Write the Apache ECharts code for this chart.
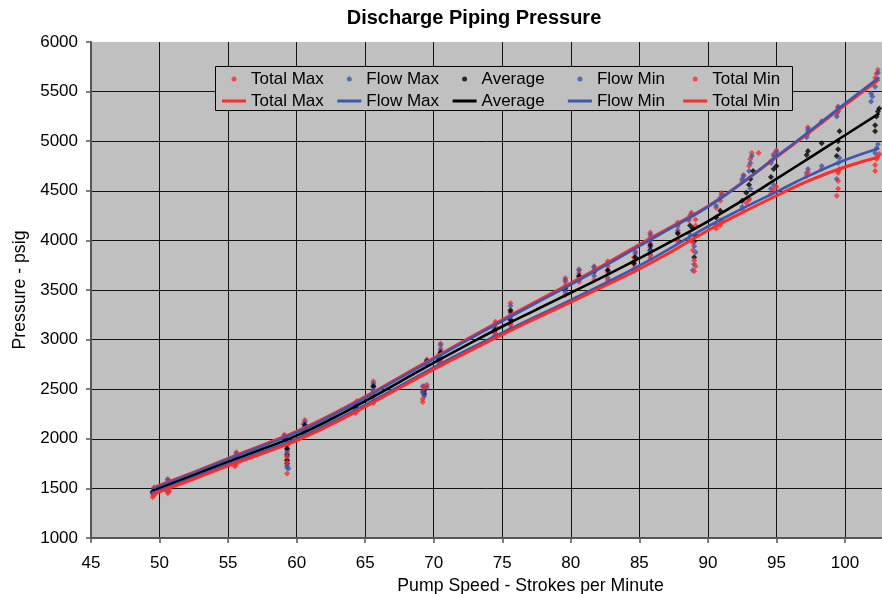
<!DOCTYPE html>
<html>
<head>
<meta charset="utf-8">
<script src="https://cdn.jsdelivr.net/npm/echarts@6/dist/echarts.min.js"></script>
<style>
  html, body { margin: 0; padding: 0; background: #fff; }
  #chart { width: 882px; height: 594px; }
</style>
</head>
<body>
<div id="chart"></div>
<script>
// Discharge piping pressure vs pump speed: measured points and fitted curves
const seriesNames = ['Total Max', 'Flow Max', 'Average', 'Flow Min', 'Total Min'];
const xTicks = [45, 50, 55, 60, 65, 70, 75, 80, 85, 90, 95, 100];
const yTicks = [1000, 1500, 2000, 2500, 3000, 3500, 4000, 4500, 5000, 5500, 6000];

// measured points [strokes per minute, psig]
const totalMaxPts = [
  [49.5,1460],[49.6,1490],[49.6,1510],[49.7,1480],
  [50.6,1500],[50.6,1540],[50.7,1575],[50.6,1595],
  [55.5,1770],[55.5,1800],[55.6,1835],[55.6,1865],
  [59.1,2040],[59.3,1985],[59.3,1930],[59.3,1880],[59.3,1820],
  [60.5,2090],[60.5,2150],[60.6,2190],
  [64.3,2310],[64.3,2350],[64.4,2380],
  [65.5,2430],[65.6,2490],[65.6,2540],[65.6,2580],
  [69.3,2530],[69.2,2480],[69.5,2545],[69.5,2800],
  [70.4,2790],[70.4,2850],[70.5,2910],[70.5,2960],
  [74.4,3080],[74.5,3130],[74.5,3180],
  [75.6,3170],[75.6,3240],[75.6,3300],[75.6,3370],
  [79.6,3520],[79.6,3580],[79.6,3620],
  [80.6,3620],[80.6,3670],[80.6,3710],
  [81.7,3680],[81.7,3740],
  [82.7,3680],[82.7,3740],[82.7,3790],
  [84.6,3760],[84.6,3830],[84.7,3890],
  [85.8,3900],[85.8,3970],[85.8,4030],[85.8,4080],
  [87.8,4080],[87.8,4140],[87.8,4180],
  [88.6,4200],[88.7,4250],[88.8,4280],
  [89.1,4150],[89.1,4210],
  [90.6,4330],[90.9,4400],[91.0,4480],
  [92.5,4600],[92.6,4660],
  [93.0,4750],[93.1,4820],[93.2,4880],[93.7,4880],
  [94.6,4800],[94.8,4870],[95.0,4910],
  [97.2,5060],[97.3,5100],[97.3,5140],
  [98.3,5200],
  [99.4,5280],[99.5,5320],[99.5,5350],
  [102.2,5640],[102.3,5680],[102.4,5720]
];
const flowMaxPts = [
  [49.5,1470],[49.6,1500],[49.7,1490],
  [50.6,1510],[50.7,1560],[50.6,1585],
  [55.5,1780],[55.6,1820],[55.6,1850],
  [59.1,2030],[59.3,1960],[59.3,1900],[59.3,1790],[59.3,1710],
  [60.5,2110],[60.6,2170],
  [64.3,2330],[64.4,2370],
  [65.5,2450],[65.6,2520],[65.6,2560],
  [69.2,2530],[69.3,2470],[69.5,2520],[69.5,2790],
  [70.4,2820],[70.5,2890],[70.5,2945],
  [74.4,3100],[74.5,3160],
  [75.6,3200],[75.6,3270],[75.6,3340],
  [79.6,3540],[79.6,3600],
  [80.6,3640],[80.6,3700],
  [81.7,3700],[81.7,3730],
  [82.7,3700],[82.7,3770],
  [84.6,3790],[84.7,3870],
  [85.8,3930],[85.8,4000],[85.8,4060],
  [87.8,4100],[87.8,4160],
  [88.6,4220],[88.8,4260],
  [88.9,3700],[89.0,3760],
  [90.6,4350],[90.9,4430],[91.0,4460],
  [92.5,4620],[92.6,4650],
  [93.0,4700],[93.1,4780],[93.2,4850],
  [94.6,4780],[94.8,4850],[95.0,4890],
  [97.2,5040],[97.3,5080],[97.3,5120],
  [98.3,5190],
  [99.4,5250],[99.5,5300],[99.5,5340],
  [101.9,5400],[101.9,5480],
  [102.0,5450],[102.2,5550],[102.3,5620],[102.4,5690]
];
const averagePts = [
  [49.5,1460],[49.6,1480],[50.6,1490],[50.6,1530],[55.5,1760],[55.6,1800],
  [59.2,2000],[59.3,1900],[59.3,1840],[59.3,1780],[59.3,1750],
  [60.5,2080],[60.6,2140],
  [64.3,2320],[65.6,2470],[65.6,2530],
  [69.3,2490],[69.3,2450],[69.5,2780],
  [70.4,2800],[70.5,2870],
  [74.5,3100],[75.6,3200],[75.6,3290],
  [79.6,3520],[80.6,3640],[81.7,3690],[82.7,3700],
  [84.6,3770],[84.7,3830],[85.8,3900],[85.8,3950],
  [87.8,4070],[88.7,4150],[88.9,4120],[89.1,4050],[89.0,3990],[89.0,3830],
  [90.6,4230],[90.9,4300],
  [92.5,4400],[92.8,4480],[93.0,4560],[93.1,4620],[93.3,4700],
  [94.6,4640],[94.8,4720],[95.0,4750],
  [97.2,4860],[97.3,4900],[98.3,4980],
  [99.4,4850],[99.5,4920],[99.5,5000],[99.6,5100],
  [102.2,5100],[102.2,5160],[102.3,5250],[102.4,5300],[102.5,5330]
];
const flowMinPts = [
  [49.5,1440],[49.6,1460],[50.6,1470],[50.7,1500],[55.5,1740],[55.6,1770],
  [59.3,1860],[59.3,1730],[59.4,1700],
  [60.5,2060],[60.6,2100],
  [64.3,2290],[65.6,2430],[65.6,2490],
  [69.2,2470],[69.3,2430],[69.5,2760],
  [70.4,2760],[70.5,2820],
  [74.5,3060],[75.6,3150],[75.6,3230],
  [79.6,3480],[80.6,3600],[81.7,3640],[82.7,3620],
  [84.6,3710],[85.8,3850],[85.8,3890],
  [87.8,4010],[88.7,4060],[89.0,3940],[89.1,3880],
  [90.6,4160],[90.9,4200],
  [92.5,4340],[93.0,4420],[93.1,4520],
  [94.6,4520],[94.8,4560],
  [97.2,4680],[97.3,4720],[98.3,4750],
  [99.4,4620],[99.5,4700],[99.5,4780],[99.6,4830],
  [102.2,4880],[102.3,4930],[102.4,4970]
];
const totalMinPts = [
  [49.5,1410],[49.6,1430],[49.7,1450],[50.6,1450],[50.7,1470],
  [55.5,1720],[55.6,1745],
  [59.3,1820],[59.3,1760],[59.3,1650],
  [60.5,2040],[60.6,2070],
  [64.3,2260],[64.4,2280],
  [65.6,2380],[65.6,2360],[65.5,2420],
  [69.2,2370],[69.2,2400],[69.3,2510],[69.5,2750],
  [70.4,2740],[70.5,2780],
  [74.4,3030],[74.5,3060],[75.6,3110],[75.6,3150],
  [79.6,3450],[80.6,3580],[81.7,3600],[82.7,3570],[82.7,3600],
  [84.6,3690],[84.7,3720],[85.8,3820],[85.8,3860],
  [87.8,3990],[88.6,4010],[88.9,3980],[88.9,3900],[89.0,3800],[89.0,3690],[89.1,3740],
  [90.6,4120],[90.9,4150],[91.0,4200],
  [92.5,4310],[92.8,4380],[93.0,4410],
  [94.6,4470],[94.8,4510],[95.0,4540],
  [97.2,4650],[97.3,4690],[98.3,4720],
  [99.4,4450],[99.5,4520],[99.5,4600],[99.5,4680],[99.6,4720],
  [102.2,4700],[102.2,4760],[102.3,4820],[102.4,4850],[102.5,4870]
];

// fitted curves sampled along the speed range
const curveX = [49.5, 52.5, 55, 57.5, 60, 62.5, 65, 67.5, 70, 72.5, 75, 77.5, 80, 82.5, 85, 87.5, 90, 92.5, 95, 97.5, 100, 102.5];
const totalMaxCurve = [1505, 1665, 1803, 1937, 2075, 2242, 2425, 2620, 2815, 3010, 3200, 3385, 3570, 3760, 3958, 4150, 4345, 4582, 4840, 5100, 5365, 5625];
const flowMaxCurve  = [1495, 1655, 1793, 1927, 2063, 2230, 2413, 2608, 2803, 2997, 3187, 3370, 3555, 3745, 3943, 4138, 4338, 4580, 4845, 5110, 5380, 5645];
const averageCurve  = [1475, 1633, 1767, 1897, 2032, 2197, 2380, 2572, 2765, 2952, 3132, 3303, 3472, 3643, 3820, 4003, 4193, 4402, 4620, 4840, 5060, 5280];
const flowMinCurve  = [1455, 1611, 1744, 1870, 2000, 2163, 2343, 2532, 2720, 2900, 3070, 3236, 3400, 3568, 3745, 3940, 4140, 4320, 4490, 4660, 4810, 4930];
const totalMinCurve = [1440, 1595, 1727, 1852, 1982, 2143, 2323, 2512, 2700, 2877, 3050, 3216, 3378, 3543, 3712, 3900, 4100, 4280, 4450, 4610, 4740, 4840];

const RED = '#FF2A2A';
const BLUE = '#3A58B0';
const BLACK = '#000000';
const colors = [RED, BLUE, BLACK, BLUE, RED];
const pointSets = [totalMaxPts, flowMaxPts, averagePts, flowMinPts, totalMinPts];
const curveSets = [totalMaxCurve, flowMaxCurve, averageCurve, flowMinCurve, totalMinCurve];
const FONT = 'Liberation Sans, Arial, sans-serif';
const CURVE_TAG = ' curve';

const pointSeries = seriesNames.map((name, i) => ({
  name: name,
  type: 'scatter',
  symbol: 'diamond',
  symbolSize: 6,
  data: pointSets[i],
  itemStyle: { color: colors[i] },
  z: 2,
  silent: true
}));

const curveSeries = seriesNames.map((name, i) => ({
  name: name + CURVE_TAG,
  type: 'line',
  smooth: true,
  symbol: 'none',
  data: curveX.map((x, k) => [x, curveSets[i][k]]),
  lineStyle: { color: colors[i], width: colors[i] === RED ? 3 : 2.6 },
  itemStyle: { color: colors[i] },
  z: 3,
  silent: true
}));

// two-row legend: markers on top, curves below, in five aligned columns
const legendBase = {
  orient: 'horizontal',
  padding: 0,
  selectedMode: false,
  formatter: n => n.replace(CURVE_TAG, '')
};
const legendText = { fontFamily: FONT, fontSize: 17, color: '#000' };
const legends = [];
seriesNames.forEach((name, c) => {
  const left = 222 + 115.3 * c;
  legends.push(Object.assign({}, legendBase, {
    left: left + 9.5, top: 70.5, itemWidth: 5, itemHeight: 5,
    data: [{ name: name, icon: 'circle' }],
    textStyle: Object.assign({ padding: [0, 0, 0, 9.5] }, legendText)
  }));
  legends.push(Object.assign({}, legendBase, {
    left: left, top: 92.5, itemWidth: 24, itemHeight: 3,
    data: [{ name: name + CURVE_TAG, icon: 'rect' }],
    textStyle: legendText
  }));
});

const chart = echarts.init(document.getElementById('chart'), null, { renderer: 'canvas' });
chart.setOption({
  animation: false,
  backgroundColor: '#ffffff',
  title: {
    text: 'Discharge Piping Pressure',
    left: 474,
    textAlign: 'center',
    top: 8,
    padding: 0,
    textStyle: { fontFamily: FONT, fontSize: 20, fontWeight: 'bold', color: '#000' }
  },
  graphic: [{
    type: 'rect',
    z: 3,
    shape: { x: 215.5, y: 66.5, width: 577, height: 44 },
    style: { fill: '#C0C0C0', stroke: '#000', lineWidth: 1 }
  }],
  legend: legends,
  grid: {
    left: 91, right: 0, top: 42, bottom: 56,
    outerBoundsMode: 'none',
    show: true, backgroundColor: '#C0C0C0', borderWidth: 0
  },
  xAxis: {
    type: 'value',
    min: xTicks[0],
    max: 102.7,
    interval: 5,
    name: 'Pump Speed - Strokes per Minute',
    nameLocation: 'middle',
    nameGap: 38,
    nameTextStyle: { fontFamily: FONT, fontSize: 17.7, color: '#000', padding: [0, 0, 0, 88] },
    axisLine: { show: true, lineStyle: { color: '#555', width: 2 } },
    axisTick: { show: true, length: 5, lineStyle: { color: '#555', width: 1.5 } },
    axisLabel: { fontFamily: FONT, fontSize: 17, color: '#000', margin: 17, showMaxLabel: false },
    splitLine: { show: true, showMaxLine: false, lineStyle: { color: '#111', width: 1 } }
  },
  yAxis: {
    type: 'value',
    min: yTicks[0],
    max: yTicks[yTicks.length - 1],
    interval: 500,
    name: 'Pressure - psig',
    nameLocation: 'middle',
    nameGap: 61,
    nameTextStyle: { fontFamily: FONT, fontSize: 17.7, color: '#000' },
    axisLine: { show: true, lineStyle: { color: '#555', width: 2 } },
    axisTick: { show: true, length: 5, lineStyle: { color: '#555', width: 1.5 } },
    axisLabel: { fontFamily: FONT, fontSize: 17, color: '#000', margin: 13, formatter: v => String(v) },
    splitLine: { show: true, showMaxLine: false, lineStyle: { color: '#111', width: 1 } }
  },
  series: pointSeries.concat(curveSeries)
});
</script>
</body>
</html>
